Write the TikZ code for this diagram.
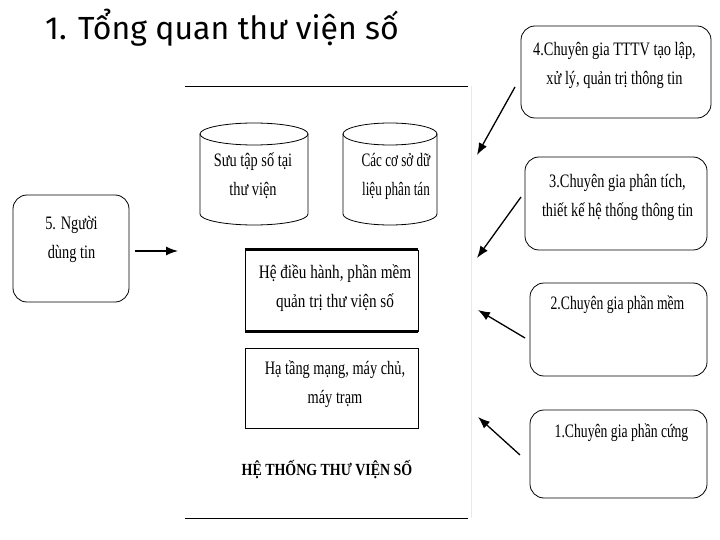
\documentclass[tikz,border=0pt]{standalone}
\usepackage{fontspec}
\setmainfont{Liberation Serif}
\newfontfamily\titlefont{Fira Sans}
\newfontfamily\cond[FakeStretch=0.8]{Liberation Serif}
\newfontfamily\fsa[FakeStretch=0.755]{Liberation Serif}
\newfontfamily\fsb[FakeStretch=0.69]{Liberation Serif}
\newfontfamily\fsc[FakeStretch=0.72]{Liberation Serif}
\newfontfamily\condb[FakeStretch=0.82]{Liberation Serif}
\usetikzlibrary{arrows.meta}
\begin{document}
\begin{tikzpicture}[x=1pt,y=-1pt,
  txt/.style={font=\cond\fontsize{19}{29}\selectfont, align=center, inner sep=0pt},
  txta/.style={txt, font=\fsa\fontsize{19}{29}\selectfont},
  txtb/.style={txt, font=\fsb\fontsize{19}{29}\selectfont},
  txtc/.style={txt, font=\fsc\fontsize{19}{29}\selectfont},
  rbox/.style={draw, rounded corners=14pt, line width=0.8pt},
  sbox/.style={draw, line width=0.8pt},
  arr/.style={-{Latex[length=12pt,width=9pt]}, line width=1.3pt}]
\useasboundingbox (0,0) rectangle (720,540);

% title
\node[anchor=base west, inner sep=0pt, font=\titlefont\fontsize{32}{38}\selectfont] (title) at (45,40) {1. Tổng quan thư viện số};

% frame lines
\coordinate (ftl) at (185,86); \coordinate (ftr) at (468,86);
\coordinate (fbl) at (185,518); \coordinate (fbr) at (468,518);
\draw[line width=0.8pt] (ftl) -- (ftr);
\draw[line width=0.8pt] (fbl) -- (fbr);
\draw[gray!18, line width=0.8pt] (471,86) -- (471,518);

% cylinders
\draw[line width=0.8pt] (200,134) -- (200,214) arc[start angle=180, end angle=360, x radius=54pt, y radius=11pt] -- (308,134);
\draw[line width=0.8pt] (254,134) ellipse [x radius=54pt, y radius=11pt];
\node[txta] (c1) at (253,176) {Sưu tập số tại\\thư viện};

\draw[line width=0.8pt] (343,134) -- (343,214) arc[start angle=180, end angle=360, x radius=47pt, y radius=11pt] -- (437,134);
\draw[line width=0.8pt] (390,134) ellipse [x radius=47pt, y radius=11pt];
\node[txtb] (c2) at (396,176) {Các cơ sở dữ\\liệu phân tán};

% OS box
\node[sbox, minimum width=173pt, minimum height=81pt, inner sep=0pt] (os) at (331.5,290.5) {};
\draw[line width=2.6pt] (os.north west) -- (os.north east);
\draw[line width=2.6pt] (os.south west) -- (os.south east);
\node[txt] (osT) at (335,288) {Hệ điều hành, phần mềm\\quản trị thư viện số};

% infrastructure box
\node[sbox, minimum width=173pt, minimum height=80pt, inner sep=0pt] (inf) at (331.5,388) {};
\node[txta] (infT) at (335,384.5) {Hạ tầng mạng, máy chủ,\\máy trạm};

% system label
\node[font=\condb\bfseries\fontsize{17}{20}\selectfont, inner sep=0pt] (sys) at (327,470) {HỆ THỐNG THƯ VIỆN SỐ};

% user box
\node[rbox, minimum width=116pt, minimum height=107pt, inner sep=0pt] (user) at (71,248.5) {};
\node[txta] (userT) at (71.5,239.5) {5. Người\\dùng tin};
\coordinate (a5s) at (135,251); \coordinate (a5e) at (178,251);
\draw[arr] (a5s) -- (a5e);

% right boxes
\node[rbox, minimum width=190pt, minimum height=92pt, inner sep=0pt] (b4) at (616,72) {};
\node[txta] (b4T) at (614.5,65) {4.Chuyên gia TTTV tạo lập,\\xử lý, quản trị thông tin};

\node[rbox, minimum width=182pt, minimum height=93pt, inner sep=0pt] (b3) at (616,203.5) {};
\node[txta] (b3T) at (617.5,197.5) {3.Chuyên gia phân tích,\\thiết kế hệ thống thông tin};

\node[rbox, minimum width=177pt, minimum height=93pt, inner sep=0pt] (b2) at (618.5,329.5) {};
\node[txtc] (b2T) at (617.5,305) {2.Chuyên gia phần mềm};

\node[rbox, minimum width=177pt, minimum height=88pt, inner sep=0pt] (b1) at (618.5,454) {};
\node[txtc] (b1T) at (621.5,433) {1.Chuyên gia phần cứng};

% arrows
\coordinate (a4s) at (515,87);  \coordinate (a4e) at (477,155);
\coordinate (a3s) at (521,197); \coordinate (a3e) at (477,258);
\coordinate (a2s) at (525,338); \coordinate (a2e) at (478,310);
\coordinate (a1s) at (520,455); \coordinate (a1e) at (478,417);
\draw[arr] (a4s) -- (a4e);
\draw[arr] (a3s) -- (a3e);
\draw[arr] (a2s) -- (a2e);
\draw[arr] (a1s) -- (a1e);
\end{tikzpicture}
\end{document}
